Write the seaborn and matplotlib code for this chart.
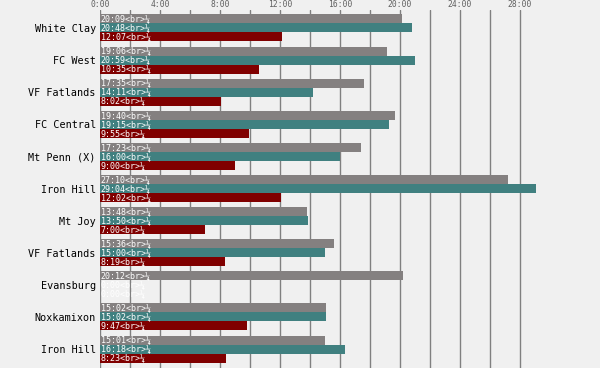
import pandas as pd
import matplotlib
matplotlib.use("Agg")
import matplotlib.pyplot as plt
import seaborn as sns

# ── data (minutes:seconds) ───────────────────────────────────────────────────
teams = ["White Clay", "FC West", "VF Fatlands", "FC Central", "Mt Penn (X)",
         "Iron Hill", "Mt Joy", "VF Fatlands", "Evansburg", "Noxkamixon", "Iron Hill"]
series = ["A", "B", "C"]
times_a = ["20:09", "19:06", "17:35", "19:40", "17:23", "27:10", "13:48", "15:36", "20:12", "15:02", "15:01"]
times_b = ["20:48", "20:59", "14:11", "19:15", "16:00", "29:04", "13:50", "15:00", "0:00", "15:02", "16:18"]
times_c = ["12:07", "10:35", "8:02", "9:55", "9:00", "12:02", "7:00", "8:19", "0:00", "9:47", "8:23"]

COLORS = ["#848080", "#408080", "#800000"]
BG = "#f0f0f0"


def to_min(t):
    m, s = t.split(":")
    return int(m) + int(s) / 60


rows = []
for i in range(len(teams)):
    for name, col in zip(series, [times_a, times_b, times_c]):
        rows.append({"slot": str(i), "series": name, "time": col[i], "minutes": to_min(col[i])})
df = pd.DataFrame(rows)

sns.set_theme(style="white")
plt.rcParams.update({
    "figure.facecolor": BG,
    "axes.facecolor": BG,
    "font.family": "DejaVu Sans Mono",
})

fig = plt.figure(figsize=(6, 3.68), dpi=100)
ax = fig.add_axes([100 / 600, 0, 500 / 600, 358 / 368])

sns.barplot(data=df, x="minutes", y="slot", hue="series", orient="h",
            palette=COLORS, saturation=1, width=0.84, gap=0, linewidth=0,
            ax=ax, legend=False, zorder=2)

# labels inside bars
for cont, col in zip(ax.containers, [times_a, times_b, times_c]):
    for bar, t in zip(cont, col):
        ax.text(0.05, bar.get_y() + bar.get_height() / 2, f"{t}<br>¼",
                color="white", fontsize=6, va="center", ha="left", zorder=3)

ax.set_xlim(0, 500 / 15)
ax.set_ylim(10.59, -0.56)
ticks = list(range(0, 30, 2))
ax.set_xticks(ticks)
ax.set_xticklabels([f"{t}:00" if t % 4 == 0 else "" for t in ticks])
ax.xaxis.tick_top()
ax.tick_params(axis="x", length=0, pad=1, labelsize=5.8, colors="#606060")
ax.tick_params(axis="y", length=0, pad=3, labelsize=7.3, colors="#000000")
ax.set_yticks(range(len(teams)))
ax.set_yticklabels(teams)
ax.grid(axis="x", color="#808080", linewidth=1, zorder=0)
ax.set_axisbelow(True)
ax.set_xlabel("")
ax.set_ylabel("")
for s in ax.spines.values():
    s.set_visible(False)

fig.savefig("out.png", dpi=100, facecolor=BG)
